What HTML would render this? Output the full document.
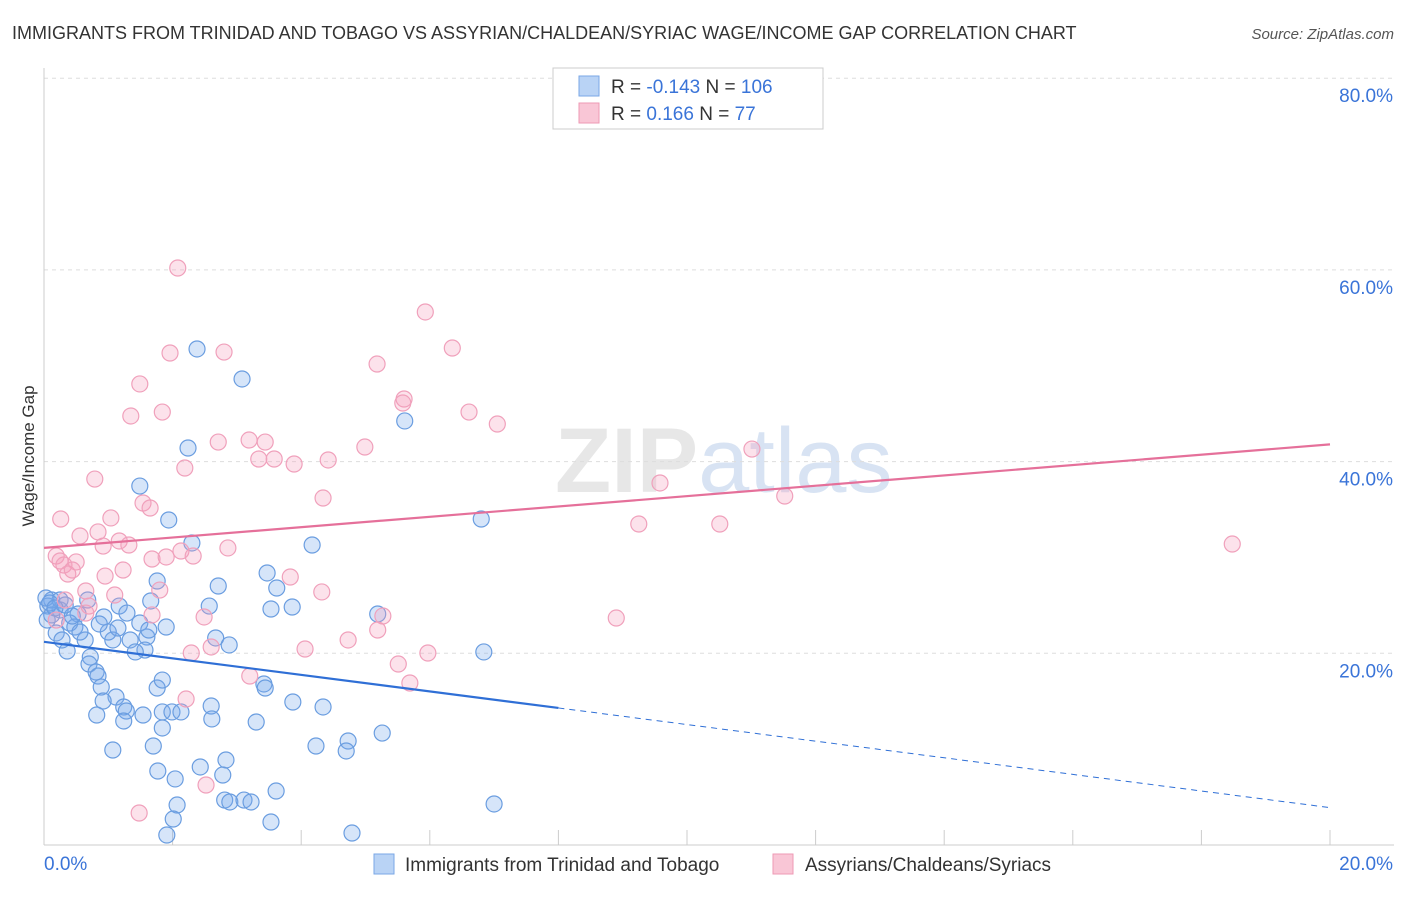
<!DOCTYPE html>
<html><head><meta charset="utf-8"><style>
body{margin:0;background:#fff;font-family:"Liberation Sans",sans-serif}
</style></head><body>
<svg id="chart" width="1406" height="892" xmlns="http://www.w3.org/2000/svg" font-family="Liberation Sans, sans-serif">
<text x="12" y="39" font-size="18" fill="#333">IMMIGRANTS FROM TRINIDAD AND TOBAGO VS ASSYRIAN/CHALDEAN/SYRIAC WAGE/INCOME GAP CORRELATION CHART</text>
<text x="1394" y="39" font-size="15" fill="#555" text-anchor="end" font-style="italic">Source: ZipAtlas.com</text>
<text x="555" y="492" font-size="92" fill="#ddd" font-weight="bold" opacity="0.7">ZIP<tspan fill="#c8d8ee" font-weight="normal">atlas</tspan></text>
<g id="grid"></g>
<g id="axes"></g>
<g id="pts"></g>
<g id="lines"></g>
<text transform="translate(34,456) rotate(-90)" font-size="17" fill="#333" text-anchor="middle">Wage/Income Gap</text>
<g>
<rect x="553" y="68" width="270" height="61" fill="#fff" stroke="#ccc"/>
<rect x="579" y="76" width="20" height="20" fill="#b9d3f5" stroke="#7aa7e6"/>
<rect x="579" y="103" width="20" height="20" fill="#f9c6d6" stroke="#ee9ab4"/>
<text x="611" y="93" font-size="19" fill="#333">R = <tspan fill="#3a74d8">-0.143</tspan>   N = <tspan fill="#3a74d8">106</tspan></text>
<text x="611" y="120" font-size="19" fill="#333">R =   <tspan fill="#3a74d8">0.166</tspan>   N =   <tspan fill="#3a74d8">77</tspan></text>
</g>
<g>
<rect x="374" y="854" width="20" height="20" fill="#b9d3f5" stroke="#7aa7e6"/>
<text x="405" y="871" font-size="19" fill="#333">Immigrants from Trinidad and Tobago</text>
<rect x="773" y="854" width="20" height="20" fill="#f9c6d6" stroke="#ee9ab4"/>
<text x="805" y="871" font-size="19" fill="#333">Assyrians/Chaldeans/Syriacs</text>
</g>
</svg>
<script>
const yTicks=[20,40,60,80];
const yTickLabels=["20.0%","40.0%","60.0%","80.0%"];
const xTickLabels=["0.0%","20.0%"];
const bluePx=[[197,349],[242,379],[405,421],[188,448],[140,486],[169,520],[192,543],[312,545],[481,519],[157,581],[218,586],[267,573],[277,588],[209,606],[151,601],[271,609],[292,607],[378,614],[119,606],[127,613],[104,617],[166,627],[216,638],[229,645],[147,637],[145,650],[130,640],[135,652],[484,652],[113,640],[108,632],[99,624],[78,614],[70,623],[60,610],[52,600],[48,606],[47,620],[56,633],[67,651],[75,627],[85,640],[90,657],[89,664],[96,672],[98,676],[101,687],[116,697],[103,701],[124,707],[126,711],[124,721],[97,715],[143,715],[157,688],[162,712],[172,712],[181,712],[211,706],[212,719],[256,722],[264,684],[265,688],[293,702],[323,707],[162,728],[153,746],[113,750],[226,760],[223,775],[200,767],[158,771],[175,779],[177,805],[173,819],[167,835],[225,800],[230,802],[244,800],[251,802],[276,791],[271,822],[316,746],[348,741],[346,751],[382,733],[352,833],[494,804],[162,680],[60,600],[72,616],[88,600],[65,605],[52,615],[140,623],[149,630],[118,628],[80,632],[62,640],[46,598],[50,603],[55,608]];
const pinkPx=[[178,268],[425,312],[452,348],[170,353],[224,352],[377,364],[140,384],[404,399],[403,403],[162,412],[131,416],[469,412],[497,424],[218,442],[249,440],[265,442],[274,459],[259,459],[294,464],[328,460],[365,447],[185,468],[752,449],[95,479],[660,483],[785,496],[323,498],[143,503],[150,508],[61,519],[111,518],[639,524],[720,524],[1232,544],[98,532],[80,536],[119,541],[129,545],[103,546],[228,548],[56,556],[60,561],[76,562],[152,559],[166,557],[181,551],[193,556],[64,565],[68,574],[72,570],[105,576],[123,570],[290,577],[86,591],[115,595],[160,590],[65,600],[89,606],[152,615],[204,617],[383,616],[378,630],[616,618],[322,592],[348,640],[211,647],[191,653],[305,649],[428,653],[250,676],[398,664],[410,683],[186,699],[206,785],[139,813],[86,613],[56,620]];
// convert to data units (x in %, y in %)
const blueX=bluePx.map(p=>+((p[0]-44)/64.3).toFixed(2));
const blueY=bluePx.map(p=>+((845-p[1])/9.585).toFixed(2));
const pinkX=pinkPx.map(p=>+((p[0]-44)/64.3).toFixed(2));
const pinkY=pinkPx.map(p=>+((845-p[1])/9.585).toFixed(2));
const blueTrend=[[0,21.2],[8,14.3],[20,3.9]];
const pinkTrend=[[0,31.0],[20,41.8]];
const X=v=>44+v*64.3, Y=v=>845-v*9.585;
const ns="http://www.w3.org/2000/svg";
function mk(t,a,par){const e=document.createElementNS(ns,t);for(const k in a)e.setAttribute(k,a[k]);document.getElementById(par).appendChild(e);return e;}
yTicks.forEach((t,i)=>{
 const l=mk('line',{x1:44,x2:1394,y1:Y(t),y2:Y(t),stroke:'#ddd','stroke-dasharray':'4,4'},'grid');
 
 
 const tx=mk('text',{x:1393,y:Y(t)+24,'font-size':19,fill:'#3a74d8','text-anchor':'end'},'axes');
 tx.textContent=yTickLabels[i];
 
 
});
mk('line',{x1:44,x2:44,y1:68,y2:845,stroke:'#ccc'},'axes');
mk('line',{x1:44,x2:1394,y1:845,y2:845,stroke:'#ccc'},'axes');
for(let i=0;i<=10;i++){const t=mk('line',{x1:X(i*2),x2:X(i*2),y1:830,y2:845,stroke:'#ccc'},'axes');}
[[0,'start'],[20,'end']].forEach((d,i)=>{const t=mk('text',{x:i?1393:44,y:870,'font-size':19,fill:'#3a74d8','text-anchor':d[1]},'axes');t.textContent=xTickLabels[i];});
blueX.forEach((x,i)=>{const c=mk('circle',{cx:X(x),cy:Y(blueY[i]),r:8,fill:'rgba(120,170,235,0.3)',stroke:'#6a9de0','stroke-width':1.2},'pts');});
pinkX.forEach((x,i)=>{const c=mk('circle',{cx:X(x),cy:Y(pinkY[i]),r:8,fill:'rgba(245,160,190,0.3)',stroke:'#f0a0bb','stroke-width':1.2},'pts');});
let b=mk('line',{x1:X(blueTrend[0][0]),y1:Y(blueTrend[0][1]),x2:X(blueTrend[1][0]),y2:Y(blueTrend[1][1]),stroke:'#2f6fd6','stroke-width':2.2},'lines');

b=mk('line',{x1:X(blueTrend[1][0]),y1:Y(blueTrend[1][1]),x2:X(blueTrend[2][0]),y2:Y(blueTrend[2][1]),stroke:'#2f6fd6','stroke-width':1,'stroke-dasharray':'6,5'},'lines');

b=mk('line',{x1:X(pinkTrend[0][0]),y1:Y(pinkTrend[0][1]),x2:X(pinkTrend[1][0]),y2:Y(pinkTrend[1][1]),stroke:'#e5709a','stroke-width':2.2},'lines');

</script>
</body></html>
